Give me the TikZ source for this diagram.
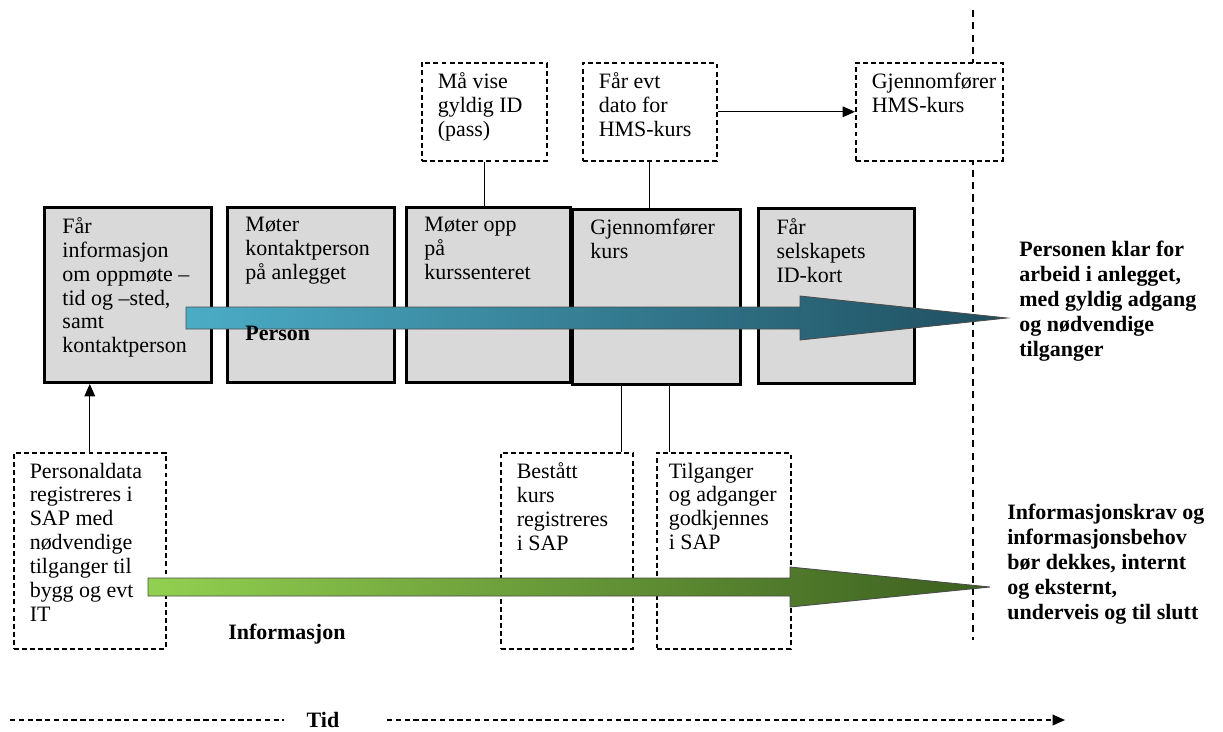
\documentclass[tikz,border=0pt]{standalone}
\usepackage{fontspec}
\setmainfont{Liberation Serif}
\usetikzlibrary{arrows.meta}
\definecolor{boxgray}{HTML}{D9D9D9}
\definecolor{blueL}{HTML}{4BACC6}
\definecolor{blueD}{HTML}{1F4E5F}
\definecolor{greenL}{HTML}{92D050}
\definecolor{greenD}{HTML}{3B5E1F}
\begin{document}
\begin{tikzpicture}[x=0.02cm,y=-0.02cm,>={Triangle[length=7pt,width=6pt]},
    every node/.style={font=\fontsize{12.5}{13.6}\selectfont}]

    \tikzset{graybox/.style={draw,line width=1.7pt,fill=boxgray,anchor=north west,inner xsep=0.36cm,inner ysep=0.2cm},
             dashbox/.style={draw,fill=white,line width=0.9pt,dash pattern=on 2.8pt off 1.8pt,anchor=north west,inner xsep=0.32cm,inner ysep=0.2cm},
             boldtext/.style={font=\bfseries\fontsize{12.5}{14.2}\selectfont,align=left,anchor=north west,inner sep=0pt}}
    \useasboundingbox (0,0) rectangle (1223,731);

    \coordinate (v1) at (973,10);
    \coordinate (v2) at (973,640);
    \draw[line width=0.7pt,dash pattern=on 4pt off 3pt] (v1) -- (v2);

    \node[graybox] (g1) at ( 43,206) {\parbox[t][3.1cm][t]{2.62cm}{Får\\informasjon\\om oppmøte –\\tid og –sted,\\samt\\kontaktperson}};
    \node[graybox] (g2) at (226,206) {\parbox[t][3.1cm][t]{2.62cm}{Møter\\kontaktperson\\på anlegget}};
    \node[graybox] (g3) at (405,206) {\parbox[t][3.1cm][t]{2.56cm}{Møter opp\\på\\kurssenteret}};
    \node[graybox] (g4) at (571,208) {\parbox[t][3.1cm][t]{2.64cm}{Gjennomfører\\kurs}};
    \node[graybox] (g5) at (757,207) {\parbox[t][3.1cm][t]{2.4cm}{Får\\selskapets\\ID-kort}};

    \node[dashbox] (d1) at (421,62) {\parbox[t][1.56cm][t]{1.86cm}{Må vise\\gyldig ID\\(pass)}};
    \node[dashbox] (d2) at (582,62) {\parbox[t][1.56cm][t]{2.04cm}{Får evt\\dato for\\HMS-kurs}};
    \node[dashbox] (d3) at (855,62) {\parbox[t][1.56cm][t]{2.3cm}{Gjennomfører\\HMS-kurs}};

    \node[dashbox] (u1) at ( 13,452) {\parbox[t][3.52cm][t]{2.4cm}{Personaldata\\registreres i\\SAP med\\nødvendige\\tilganger til\\bygg og evt\\IT}};
    \node[dashbox] (u2) at (500,452) {\parbox[t][3.52cm][t]{2.0cm}{Bestått\\kurs\\registreres\\i SAP}};
    \node[dashbox,inner xsep=0.24cm] (u3) at (656,452) {\parbox[t][3.52cm][t]{2.2cm}{Tilganger\\og adganger\\godkjennes\\i SAP}};

    % fat arrows
    \shade[left color=blueL,right color=blueD,draw=black!70,line width=0.5pt]
        (186,307) -- (800,307) -- (800,296) -- (1007,318) -- (800,340) -- (800,329) -- (186,329) -- cycle;
    \shade[left color=greenL,right color=greenD,draw=black!70,line width=0.5pt]
        (148,578) -- (790,578) -- (790,567) -- (990,587) -- (790,607) -- (790,596) -- (148,596) -- cycle;

    \node[boldtext] (lab1) at (245,326) {Person};
    \node[boldtext] (lab2) at (228,624) {Informasjon};
    \node[boldtext] (res1) at (1019,241) {Personen klar for\\arbeid i anlegget,\\med gyldig adgang\\og nødvendige\\tilganger};
    \node[boldtext] (res2) at (1007,504) {Informasjonskrav og\\informasjonsbehov\\bør dekkes, internt\\og eksternt,\\underveis og til slutt};

    \begin{scope}[every path/.style={thick}]
        \draw[->] (u1.north) -- (u1.north |- g1.south);
        \draw (d1.south) -- (d1.south |- g3.north);
        \draw (d2.south) -- (d2.south |- g4.north);
        \draw[->] (d2.east) -- (d3.west);
        \draw ([xshift=-0.7cm]g4.south) -- ([xshift=-0.7cm]g4.south |- u2.north);
        \draw ([xshift=0.26cm]g4.south) -- ([xshift=0.26cm]g4.south |- u3.north);
    \end{scope}

    % time axis
    \coordinate (t0) at (10,720);
    \coordinate (t1) at (1065,720);
    \node[font=\bfseries\fontsize{12.5}{14}\selectfont,inner xsep=0.45cm,inner ysep=0pt] (tid) at (323,720) {Tid};
    \draw[line width=1pt,dash pattern=on 3pt off 2pt] (t0) -- (tid.west);
    \draw[line width=1pt,dash pattern=on 3pt off 2pt,->] ([xshift=0.5cm]tid.east) -- (t1);
\end{tikzpicture}
\end{document}
